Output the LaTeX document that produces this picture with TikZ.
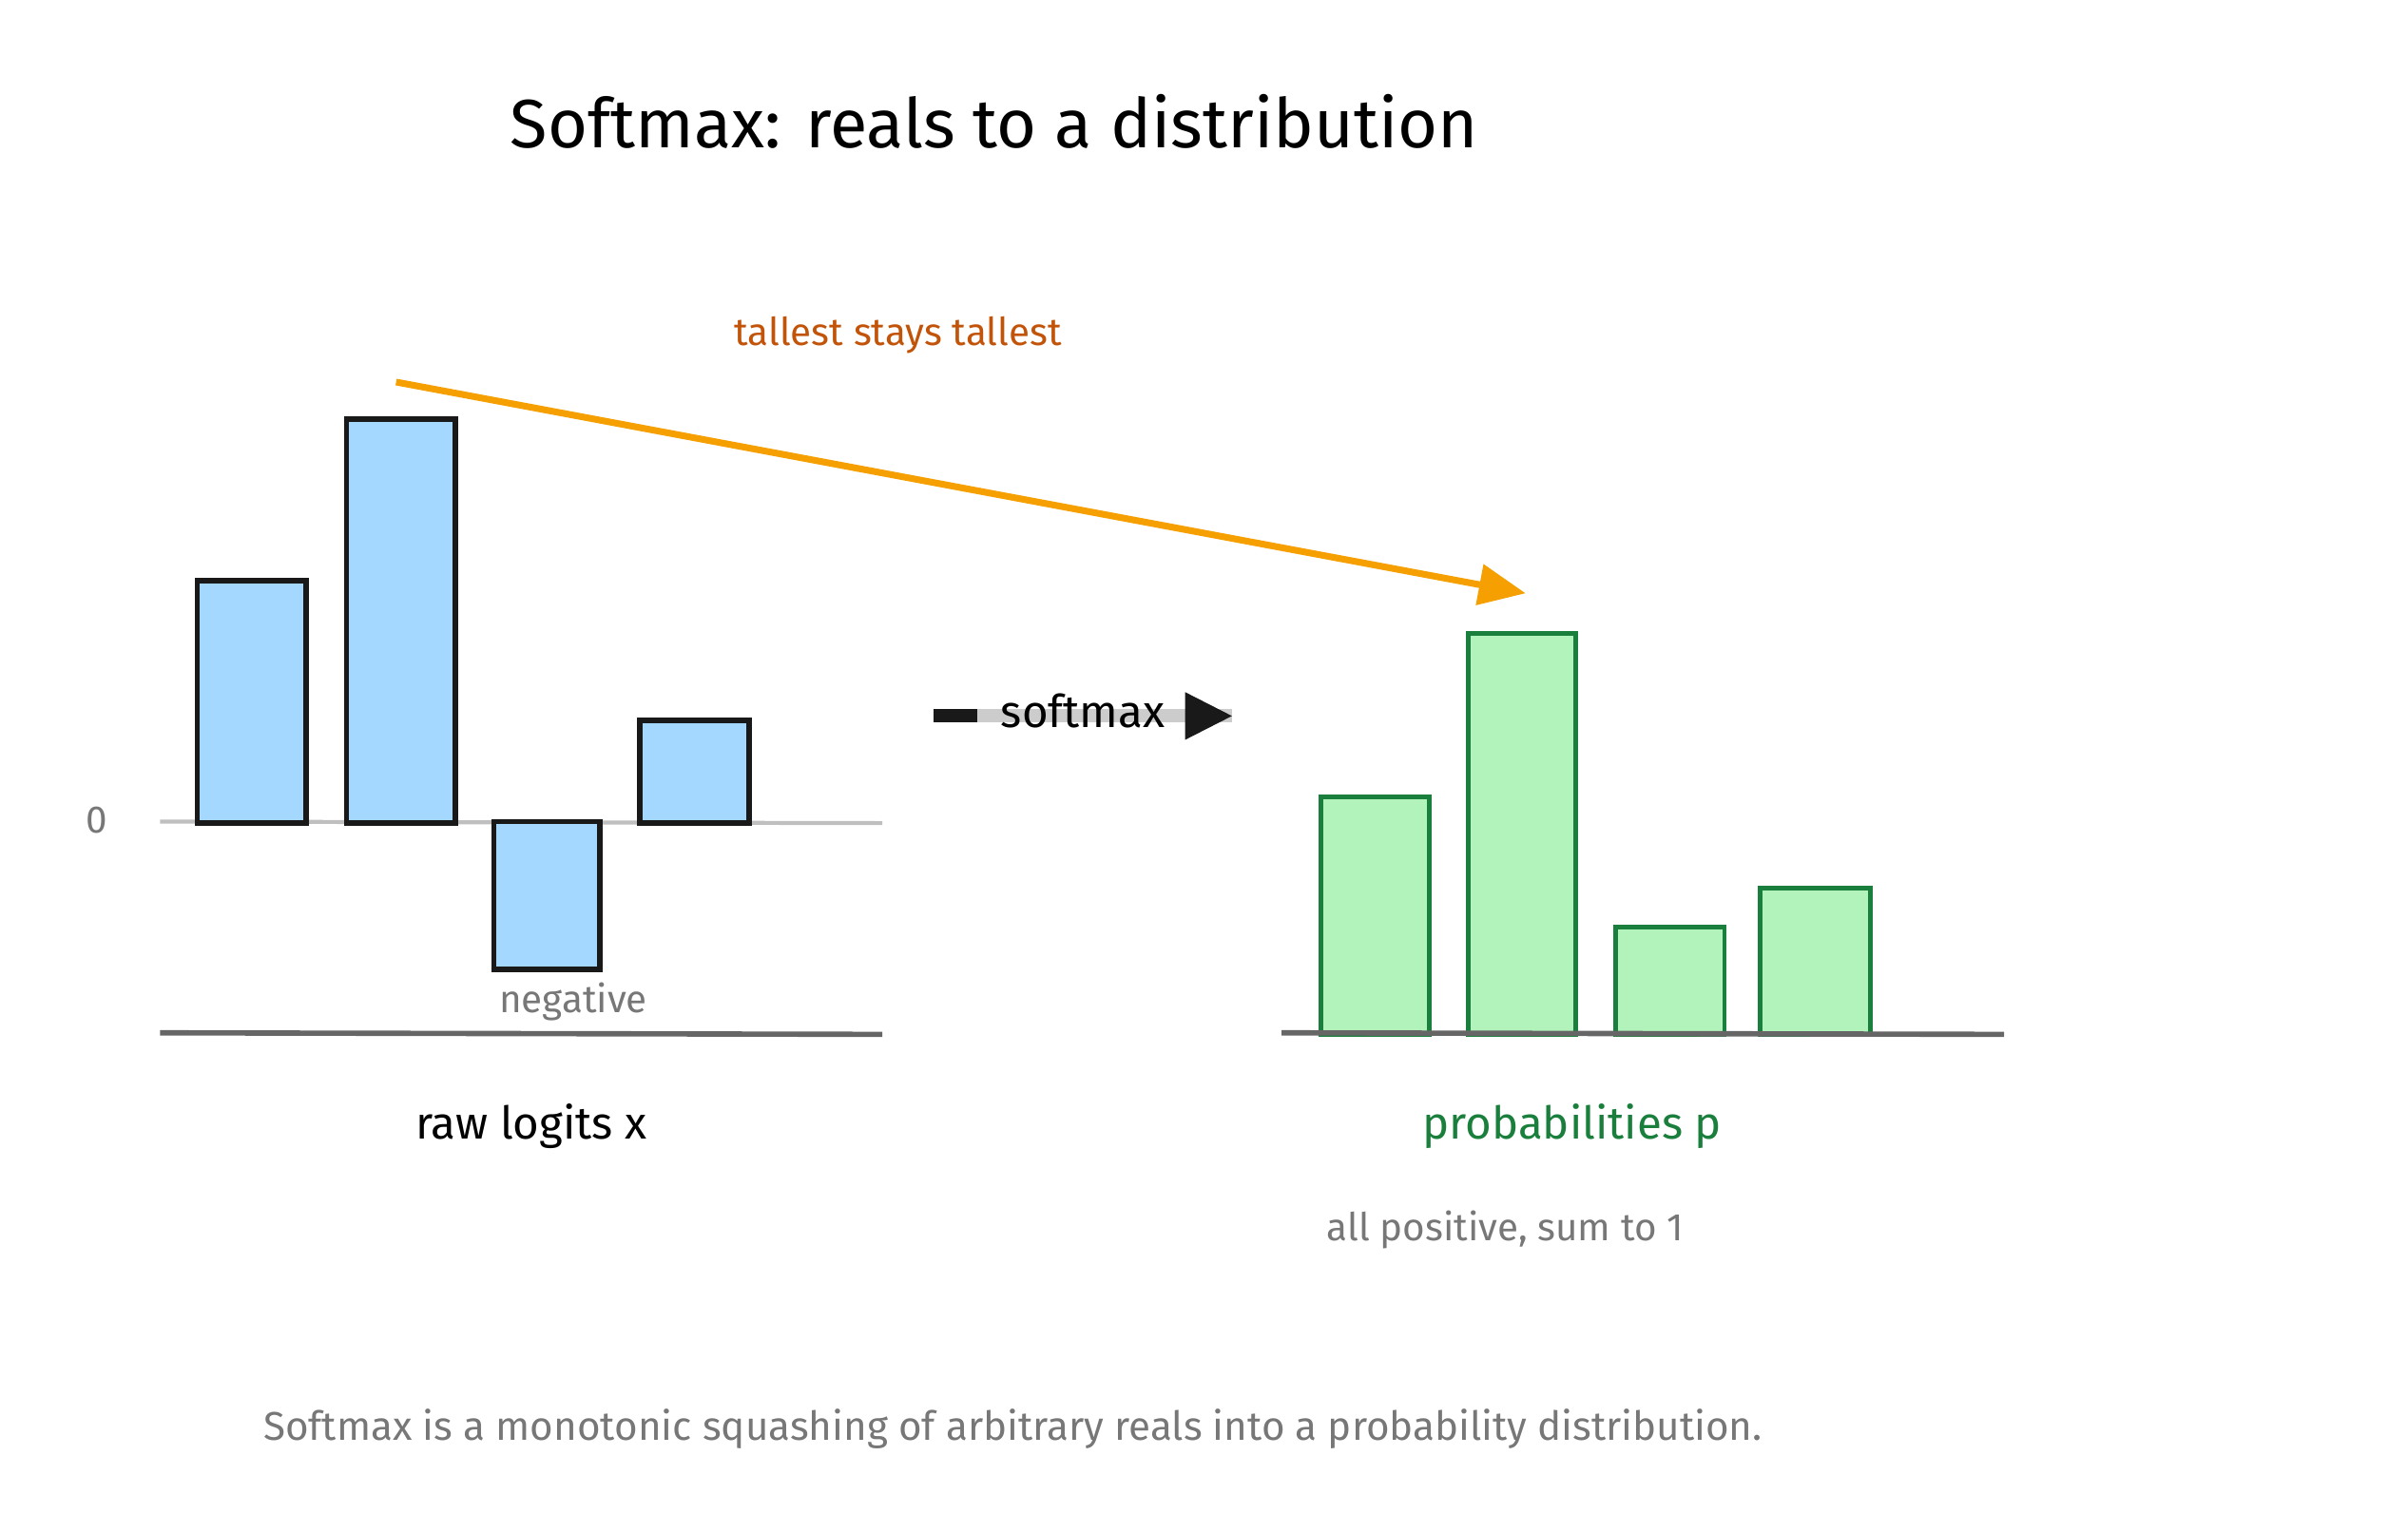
\documentclass[tikz,border=0pt]{standalone}
\usepackage{fontspec}
\setmainfont{Fira Sans}
\usetikzlibrary{arrows.meta}
\definecolor{bluefill}{HTML}{A5D8FF}
\definecolor{greenfill}{HTML}{B2F2BB}
\definecolor{greenline}{HTML}{1A7F3C}
\definecolor{orangeline}{HTML}{F59F00}
\definecolor{orangetext}{HTML}{C2540A}
\definecolor{graytext}{HTML}{777777}
\begin{document}
\begin{tikzpicture}[x=0.01634cm,y=-0.01634cm,
    logit/.style={fill=bluefill,draw=black!90,line width=1.6pt},
    prob/.style={fill=greenfill,draw=greenline,line width=1.4pt},
    axis/.style={draw=black!60,line width=1.6pt},
    zero/.style={draw=black!25,line width=1.2pt},
    note/.style={text=graytext,font=\fontsize{11.5}{14}\selectfont}]
    \useasboundingbox (0,0) rectangle (1550,986);

    \node (title) at (640,78) {\fontsize{20.5}{24}\selectfont Softmax: reals to a distribution};

    % left: raw logits
    \draw[zero] (103,529) -- (568,530);
    \draw[logit] (127,374) rectangle (197,530);
    \draw[logit] (223,270) rectangle (293,530);
    \draw[logit] (318,529) rectangle (386,624);
    \draw[logit] (412,464) rectangle (482,530);
    \draw[axis] (103,665) -- (568,666);
    \node[note] (zlabel) at (62,528) {0};
    \node[note] (neg) at (369,645) {negative};
    \node (xlabel) at (342,725) {\fontsize{13.5}{16}\selectfont raw logits x};

    % softmax arrow
    \coordinate (sfrom) at (601,461);
    \coordinate (sto) at (793,461);
    \draw[black!20,line width=4pt] (sfrom) -- (sto);
    \draw[black!90,line width=4pt] (sfrom) -- ++(28,0);
    \draw[-{Triangle[length=14pt,width=14pt]},black!90,line width=1pt] (765,461) -- (sto);
    \node (smax) at (697,458) {\fontsize{13.5}{16}\selectfont softmax};

    % right: probabilities
    \draw[prob] (850,513) rectangle (920,666);
    \draw[prob] (945,408) rectangle (1014,666);
    \draw[prob] (1040,597) rectangle (1110,666);
    \draw[prob] (1133,572) rectangle (1204,666);
    \draw[axis] (825,665) -- (1290,666);
    \node[text=greenline] (plabel) at (1012,725) {\fontsize{13.5}{16}\selectfont probabilities p};
    \node[note] (pnote) at (969,792) {all positive, sum to 1};

    % tallest stays tallest
    \coordinate (tfrom) at (255,246);
    \coordinate (tto) at (982,382);
    \draw[-{Triangle[length=14pt,width=12pt]},orangeline,line width=2pt] (tfrom) -- (tto);
    \node[text=orangetext,font=\fontsize{11.5}{14}\selectfont] (tlabel) at (578,216) {tallest stays tallest};

    \node[note,font=\fontsize{12}{14}\selectfont] (caption) at (652,920) {Softmax is a monotonic squashing of arbitrary reals into a probability distribution.};
\end{tikzpicture}
\end{document}
